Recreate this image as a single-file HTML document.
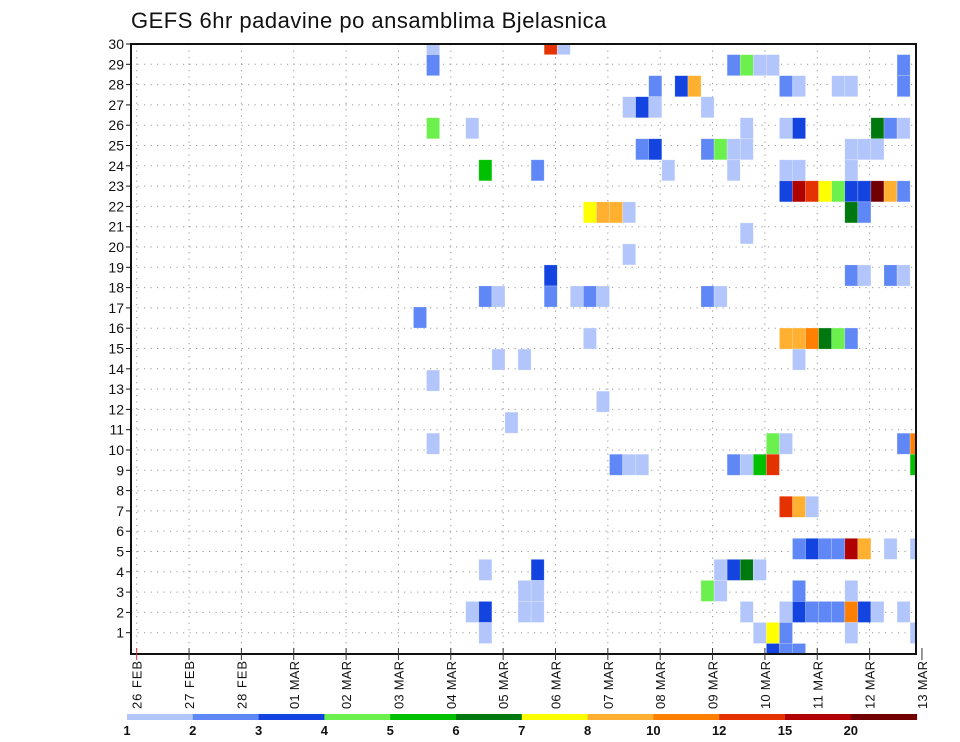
<!DOCTYPE html>
<html><head><meta charset="utf-8"><style>
html,body{margin:0;padding:0;background:#fff;}
svg{display:block;font-family:"Liberation Sans","DejaVu Sans",sans-serif;}
</style></head><body>
<svg id="chart" width="960" height="742" viewBox="0 0 960 742" xmlns="http://www.w3.org/2000/svg">
<text x="131" y="28" font-size="22" fill="#111" letter-spacing="0.5">GEFS 6hr padavine po ansamblima Bjelasnica</text>
<g id="grid"></g>
<g id="cells"></g>
<g id="axes"></g>
<g id="cbar"></g>
</svg>
<script>
// ---- data ----
const dayLabels = ["26 FEB","27 FEB","28 FEB","01 MAR","02 MAR","03 MAR","04 MAR","05 MAR","06 MAR","07 MAR","08 MAR","09 MAR","10 MAR","11 MAR","12 MAR","13 MAR"];
const memberTicks = [1,2,3,4,5,6,7,8,9,10,11,12,13,14,15,16,17,18,19,20,21,22,23,24,25,26,27,28,29,30];
const levelBounds = [1,2,3,4,5,6,7,8,10,12,15,20];
const levelColors = ["#b3c6fb","#5f87f6","#1444e0","#6cf04e","#00c000","#007810","#ffff00","#ffb030","#ff8000","#e43200","#b00000","#720000"];
// cells: ensemble member, 6-hour step index, precipitation (mm)
const cellMember = [30,30,30, 29,29,29,29,29,29, 28,28,28,28,28,28,28,28, 27,27,27,27, 26,26,26,26,26,26,26,26, 25,25,25,25,25,25,25,25,25, 24,24,24,24,24,24,24, 23,23,23,23,23,23,23,23,23,23, 22,22,22,22,22,22, 21, 20, 19,19,19,19,19, 18,18,18,18,18,18,18,18, 17, 16,16,16,16,16,16,16, 15,15,15, 14, 13, 12, 11,11,11,11,11, 10,10,10,10,10,10,10,10, 8,8,8, 6,6,6,6,6,6,6,6, 5,5,5,5,5,5, 4,4,4,4,4,4, 3,3,3,3,3,3,3,3,3,3,3,3,3,3, 2,2,2,2,2,2, 1,1,1];
const cellStep = [22,31,32, 22,45,46,47,48,58, 39,41,42,49,50,53,54,58, 37,38,39,43, 22,25,46,49,50,56,57,58, 38,39,43,44,45,46,54,55,56, 26,30,40,45,49,50,54, 49,50,51,52,53,54,55,56,57,58, 34,35,36,37,54,55, 46, 37, 31,54,55,57,58, 26,27,31,33,34,35,43,44, 21, 34,49,50,51,52,53,54, 27,29,50, 22, 35, 28, 22,48,49,58,59, 36,37,38,45,46,47,48,59, 49,50,51, 50,51,52,53,54,55,57,59, 26,30,44,45,46,47, 29,30,43,44,50,54, 25,26,29,30,46,49,50,51,52,53,54,55,56,58, 26,47,48,49,54,59, 48,49,50];
const cellValue = [1.5,13,1.5, 2.5,2.5,4.5,1.5,1.5,2.5, 2.5,3.5,9,2.5,1.5,1.5,1.5,2.5, 1.5,3.5,1.5,1.5, 4.5,1.5,1.5,1.5,3.5,6.5,2.5,1.5, 2.5,3.5,2.5,4.5,1.5,1.5,1.5,1.5,1.5, 5.5,2.5,1.5,1.5,1.5,1.5,1.5, 3.5,17,13,7.5,4.5,3.5,3.5,22,9,2.5, 7.5,9,9,1.5,6.5,2.5, 1.5, 1.5, 3.5,2.5,1.5,2.5,1.5, 2.5,1.5,2.5,1.5,2.5,1.5,2.5,1.5, 2.5, 1.5,9,9,11,6.5,4.5,2.5, 1.5,1.5,1.5, 1.5, 1.5, 1.5, 1.5,4.5,1.5,2.5,11, 2.5,1.5,1.5,2.5,1.5,5.5,13,5.5, 13,9,1.5, 2.5,3.5,2.5,2.5,17,9,1.5,1.5, 1.5,3.5,1.5,3.5,6.5,1.5, 1.5,1.5,4.5,1.5,2.5,1.5, 1.5,3.5,1.5,1.5,1.5,1.5,3.5,2.5,2.5,2.5,11,3.5,1.5,1.5, 1.5,1.5,7.5,2.5,1.5,1.5, 3.5,2.5,2.5];

// ---- geometry ----
const PL=131, PR=916, PT=44, PB=654;
const NS="http://www.w3.org/2000/svg";
function mk(tag, attrs, parent){const e=document.createElementNS(NS,tag);for(const k in attrs)e.setAttribute(k,attrs[k]);parent.appendChild(e);return e;}
const dayX = d => 136.7 + 52.35*d;
const stepX = s => 139 + 13.07*s;
const stepW = 13.07;
const memberY = m => 654 - (m-1)*21.03;
const memberH = 21.03;
const tickY = m => 44 + (30-m)*20.3;
function colorFor(v){let c=-1;for(let k=0;k<levelBounds.length;k++){if(v>=levelBounds[k])c=k;}return c<0?null:levelColors[c];}

const grid=document.getElementById('grid'), cells=document.getElementById('cells'), axes=document.getElementById('axes'), cbar=document.getElementById('cbar');

memberTicks.forEach(m=>{
  const l=mk('line',{x1:PL,x2:PR,y1:tickY(m),y2:tickY(m),stroke:'#999','stroke-width':1,'stroke-dasharray':'1.2 5.3'},grid);
  
  
});
dayLabels.forEach((d,i)=>{
  const x=dayX(i); if(x>PR) return;
  const l=mk('line',{x1:x,x2:x,y1:PT,y2:PB,stroke:'#999','stroke-width':1,'stroke-dasharray':'1.2 5.3'},grid);
  
  
});

for(let k=0;k<cellMember.length;k++){
  const col=colorFor(cellValue[k]); if(!col) continue;
  let x=stepX(cellStep[k]), w=stepW;
  let y=memberY(cellMember[k])-memberH/2, h=memberH;
  if(x+w>PR) w=PR-x;
  if(y<PT){h-=PT-y;y=PT;}
  if(y+h>PB){h=PB-y;}
  const r=mk('rect',{x:x.toFixed(2),y:y.toFixed(2),width:w.toFixed(2),height:h.toFixed(2),fill:col,stroke:'rgba(255,255,255,0.35)','stroke-width':0.6},cells);
  
  
}

const fr=mk('rect',{x:PL,y:PT,width:PR-PL,height:PB-PT,fill:'none',stroke:'#111','stroke-width':2},axes);



memberTicks.forEach(m=>{
  const y=tickY(m);
  const t=mk('line',{x1:PL-5,x2:PL,y1:y,y2:y,stroke:'#111','stroke-width':1},axes);
  
  
  const tx=mk('text',{x:PL-7,y:y+5,'text-anchor':'end','font-size':14,fill:'#111'},axes);
  tx.textContent=m;
  
  
});
dayLabels.forEach((d,i)=>{
  const x=dayX(i);
  const t=mk('line',{x1:x,x2:x,y1:PB-6,y2:PB+6,stroke:i===0?'#c33':'#333','stroke-width':1},axes);
  
  
  const tx=mk('text',{x:0,y:0,'text-anchor':'end','font-size':13,fill:'#111',textLength:48,lengthAdjust:'spacing',transform:`translate(${(x+5).toFixed(1)},661) rotate(-90)`},axes);
  tx.textContent=d;
  
  
});

const cbL=127, cbW=65.8;
levelColors.forEach((c,k)=>{
  const r=mk('rect',{x:cbL+cbW*k,y:714,width:cbW+0.5,height:6,fill:c},cbar);
  
  
});
levelBounds.forEach((b,k)=>{
  const tx=mk('text',{x:cbL+cbW*k,y:735,'text-anchor':'middle','font-size':13,'font-weight':'bold',fill:'#111'},cbar);
  tx.textContent=b;
  
  
});
</script>
</body></html>
